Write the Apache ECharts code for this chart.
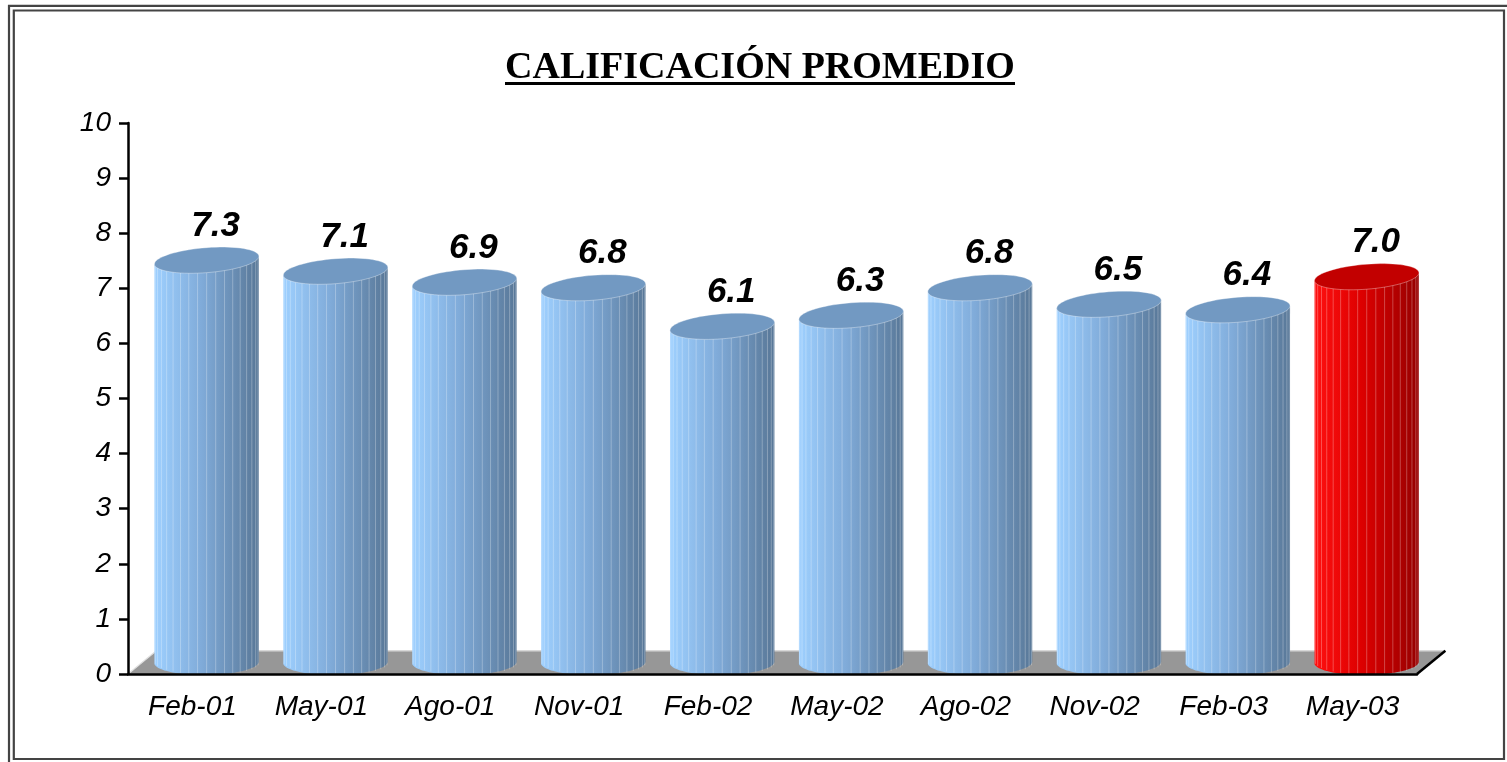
<!DOCTYPE html>
<html>
<head>
<meta charset="utf-8">
<script src="https://cdn.jsdelivr.net/npm/echarts@6/dist/echarts.min.js"></script>
<style>
  html, body { margin: 0; padding: 0; background: #fff; }
  #chart { width: 1507px; height: 762px; }
</style>
</head>
<body>
<div id="chart"></div>
<script>
// datos del grafico
var categories = ['Feb-01', 'May-01', 'Ago-01', 'Nov-01', 'Feb-02', 'May-02', 'Ago-02', 'Nov-02', 'Feb-03', 'May-03']
var values = [7.3, 7.1, 6.9, 6.8, 6.1, 6.3, 6.8, 6.5, 6.4, 7.0]
var barTone = ['blue', 'blue', 'blue', 'blue', 'blue', 'blue', 'blue', 'blue', 'blue', 'red']
var yTicks = [0, 10, 1]

var tones = {
  blue: { light: '#9ED0FF', mid: '#80ABD9', dark: '#587797', cap: '#7299C2' },
  red: { light: '#FF1010', mid: '#DD0000', dark: '#960000', cap: '#C20000' }
}

var font = '"Liberation Sans", Arial, sans-serif'

function floorItem (params, api) {
  var cs = params.coordSys
  var band = cs.width / categories.length
  var dx = band * 0.22
  var dy = -band * 0.18
  var x0 = cs.x
  var x1 = cs.x + cs.width
  var y0 = cs.y + cs.height
  return {
    type: 'group',
    children: [
      {
        type: 'polygon',
        shape: { points: [[x0, y0], [x1, y0], [x1 + dx, y0 + dy], [x0 + dx, y0 + dy]] },
        style: { fill: '#979797' }
      },
      { type: 'line', shape: { x1: x0 + dx, y1: y0 + dy, x2: x1 + dx, y2: y0 + dy }, style: { stroke: '#d8d8d8', lineWidth: 1.5 } },
      { type: 'line', shape: { x1: x0, y1: y0, x2: x0 + dx, y2: y0 + dy }, style: { stroke: '#e0e0e0', lineWidth: 1.2 } },
      { type: 'line', shape: { x1: x1, y1: y0, x2: x1 + dx, y2: y0 + dy }, style: { stroke: '#000', lineWidth: 2.5 } }
    ]
  }
}

function cylinderItem (params, api) {
  var idx = api.value(0)
  var val = api.value(1)
  var base = api.coord([idx, 0])
  var top = api.coord([idx, val])
  var band = api.size([1, 0])[0]
  var dx = band * 0.22
  var dy = -band * 0.18
  var rx = band * 0.405
  var ry = band * 0.097
  var cx = base[0] + dx / 2
  var yb = base[1] + dy / 2
  var yt = top[1] + dy / 2
  var k = 0.075
  var kb = 0.015
  var t = tones[barTone[idx]]
  var n, i, a

  // cuerpo: borde superior + media elipse inferior
  var body = [[cx - rx, yt + k * rx], [cx + rx, yt - k * rx]]
  for (i = 0; i <= 40; i++) {
    a = Math.PI * i / 40
    body.push([cx + rx * Math.cos(a), yb + ry * Math.sin(a) - kb * rx * Math.cos(a)])
  }
  var children = [{
    type: 'polygon',
    shape: { points: body },
    style: {
      fill: new echarts.graphic.LinearGradient(0, 0, 1, 0, [
        { offset: 0, color: t.light },
        { offset: 0.45, color: t.mid },
        { offset: 1, color: t.dark }
      ])
    }
  }]

  // facetas verticales
  n = 18
  for (i = 1; i < n; i++) {
    a = Math.PI * i / n
    var fx = cx - rx * Math.cos(a)
    children.push({
      type: 'line',
      shape: { x1: fx, y1: yt - k * (fx - cx), x2: fx, y2: yb + ry * Math.sin(a) + kb * (fx - cx) },
      style: { stroke: 'rgba(255,255,255,0.28)', lineWidth: 1 }
    })
  }

  // tapa
  var cap = []
  for (i = 0; i < 72; i++) {
    a = Math.PI * 2 * i / 72
    cap.push([cx + rx * Math.cos(a), yt + ry * Math.sin(a) - k * rx * Math.cos(a)])
  }
  children.push({
    type: 'polygon',
    shape: { points: cap },
    style: { fill: t.cap, stroke: 'rgba(255,255,255,0.35)', lineWidth: 1 }
  })

  children.push({
    type: 'text',
    style: {
      text: val.toFixed(1),
      x: cx + 9,
      y: yt - 34,
      align: 'center',
      verticalAlign: 'middle',
      fontStyle: 'italic',
      fontWeight: 'bold',
      fontSize: 35,
      fontFamily: font,
      fill: '#000'
    }
  })
  return { type: 'group', children: children }
}

var chart = echarts.init(document.getElementById('chart'), null, { renderer: 'canvas' })
chart.setOption({
  animation: false,
  backgroundColor: '#fff',
  title: {
    text: 'CALIFICACIÓN PROMEDIO',
    left: 505,
    top: 49,
    padding: 0,
    textStyle: { fontFamily: '"Liberation Serif", "Times New Roman", serif', fontWeight: 'bold', fontSize: 38, color: '#000' }
  },
  graphic: [
    { type: 'rect', left: 505, top: 82, shape: { width: 510, height: 3 }, style: { fill: '#000' } },
    { type: 'polyline', shape: { points: [[9, 762], [9, 5.8], [1507, 5.8]] }, style: { stroke: '#444', lineWidth: 2.2, fill: null } },
    { type: 'rect', shape: { x: 13.8, y: 10.5, width: 1490.2, height: 748.5 }, style: { stroke: '#444', lineWidth: 2.2, fill: null } }
  ],
  grid: { left: 128, right: 90, top: 123, bottom: 88 },
  xAxis: {
    type: 'category',
    data: categories,
    z: 3,
    boundaryGap: true,
    axisLine: { lineStyle: { color: '#000', width: 2.5 } },
    axisTick: { length: 10, lineStyle: { color: '#000', width: 2.5 } },
    axisLabel: { margin: 19, fontSize: 28, fontStyle: 'italic', fontFamily: font, color: '#000' },
    splitLine: { show: false }
  },
  yAxis: {
    type: 'value',
    min: yTicks[0],
    max: yTicks[1],
    interval: yTicks[2],
    z: 3,
    axisLine: { show: true, lineStyle: { color: '#000', width: 2.5 } },
    axisTick: { show: true, length: 9, lineStyle: { color: '#000', width: 2.5 } },
    axisLabel: { margin: 17, fontSize: 28, fontStyle: 'italic', fontFamily: font, color: '#000' },
    splitLine: { show: false }
  },
  series: [
    {
      type: 'custom',
      name: 'piso',
      z: 1,
      silent: true,
      renderItem: floorItem,
      data: [[0, 0]]
    },
    {
      type: 'custom',
      name: 'Calificación',
      z: 2,
      renderItem: cylinderItem,
      encode: { x: 0, y: 1 },
      data: values.map(function (v, i) { return [i, v] })
    }
  ]
})
</script>
</body>
</html>
